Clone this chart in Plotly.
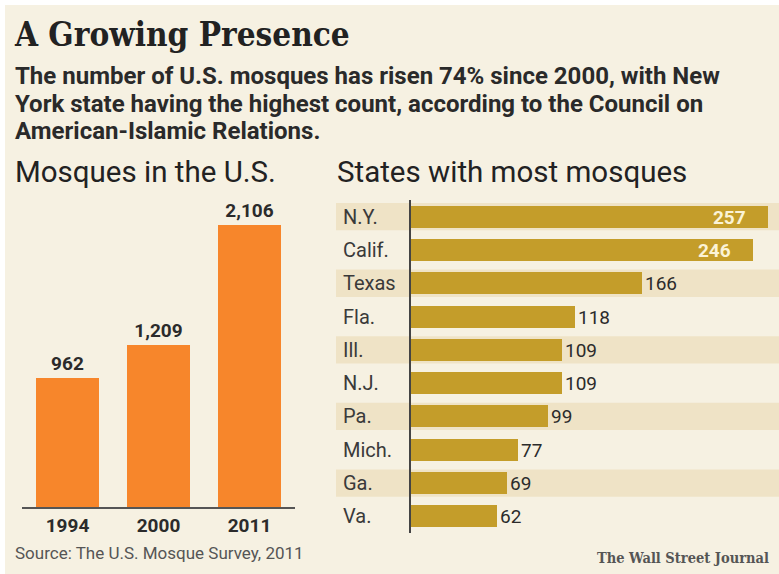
import plotly.graph_objects as go

# ---- data ----
years = ["1994", "2000", "2011"]
mosque_counts = [962, 1209, 2106]

states = ["N.Y.", "Calif.", "Texas", "Fla.", "Ill.", "N.J.", "Pa.", "Mich.", "Ga.", "Va."]
state_counts = [257, 246, 166, 118, 109, 109, 99, 77, 69, 62]

title = "A Growing Presence"
subtitle_lines = [
    "The number of U.S. mosques has risen 74% since 2000, with New",
    "York state having the highest count, according to the Council on",
    "American-Islamic Relations.",
]
left_title = "Mosques in the U.S."
right_title = "States with most mosques"
source = "Source: The U.S. Mosque Survey, 2011"
credit = "The Wall Street Journal"

# ---- style ----
PAGE_W, PAGE_H = 779, 574
OFF = 5  # page margin (white border as in the reference)
W, H = PAGE_W - OFF, PAGE_H - OFF
BG = "#f6f1e2"
ORANGE = "#f7862b"
GOLD = "#c49d2a"
STRIPE = "#efe3c6"
DARK = "#2b2b2b"
SANS = "Roboto, Arial, sans-serif"
SERIF = "DejaVu Serif Condensed, DejaVu Serif, serif"


def px_x(p):
    return (p - OFF) / W


def px_y(p):
    return 1 - (p - OFF) / H


fig = go.Figure()

# Left: vertical bars
fig.add_trace(go.Bar(
    x=years, y=mosque_counts,
    marker=dict(color=ORANGE, line=dict(width=0)),
    width=0.70,
    text=[f"<b>{v:,}</b>" for v in mosque_counts],
    textposition="outside",
    textfont=dict(family=SANS, size=19, color=DARK),
    cliponaxis=False,
    xaxis="x", yaxis="y",
    hoverinfo="skip",
))

# Right: horizontal bars
inside = [v > 200 for v in state_counts]
fig.add_trace(go.Bar(
    x=state_counts, y=states, orientation="h",
    marker=dict(color=GOLD, line=dict(width=0)),
    width=0.66,
    text=[(f"<b>{v}</b>\u2003" if f else str(v)) for v, f in zip(state_counts, inside)],
    textposition=["inside" if f else "outside" for f in inside],
    insidetextanchor="end",
    constraintext="none",
    textfont=dict(family=SANS, size=19,
                  color=["#fbf3d6" if f else DARK for f in inside]),
    cliponaxis=False,
    xaxis="x2", yaxis="y2",
    hoverinfo="skip",
))

shapes = []
for i, s in enumerate(states):
    if i % 2 == 0:
        shapes.append(dict(type="rect", xref="paper", yref="y2",
                           x0=px_x(336), x1=1.0, y0=i - 0.41, y1=i + 0.41,
                           fillcolor=STRIPE, line=dict(width=0), layer="below"))

annotations = []
annotations.append(dict(text=f"<b>{title}</b>", x=px_x(12), y=px_y(35),
                        xref="paper", yref="paper", xanchor="left", yanchor="middle",
                        showarrow=False, font=dict(family=SERIF, size=33, color="#222")))
for k, line in enumerate(subtitle_lines):
    annotations.append(dict(text=f"<b>{line}</b>", x=px_x(13), y=px_y(76 + 27.5 * k),
                            xref="paper", yref="paper", xanchor="left", yanchor="middle",
                            showarrow=False, font=dict(family=SANS, size=24, color="#2a2a2a")))
annotations.append(dict(text=left_title, x=px_x(13), y=px_y(172),
                        xref="paper", yref="paper", xanchor="left", yanchor="middle",
                        showarrow=False, font=dict(family=SANS, size=29.5, color="#222")))
annotations.append(dict(text=right_title, x=px_x(335), y=px_y(172),
                        xref="paper", yref="paper", xanchor="left", yanchor="middle",
                        showarrow=False, font=dict(family=SANS, size=29.5, color="#222")))
for i, s in enumerate(states):
    annotations.append(dict(text=s, x=px_x(341), y=s, xref="paper", yref="y2",
                            xanchor="left", yanchor="middle", showarrow=False,
                            font=dict(family=SANS, size=20, color="#3a3a3a")))
annotations.append(dict(text=source, x=px_x(13), y=px_y(553),
                        xref="paper", yref="paper", xanchor="left", yanchor="middle",
                        showarrow=False, font=dict(family=SANS, size=17, color="#555")))
annotations.append(dict(text=f"<b>{credit}</b>", x=px_x(771), y=px_y(557),
                        xref="paper", yref="paper", xanchor="right", yanchor="middle",
                        showarrow=False, font=dict(family=SERIF, size=14.5, color="#555")))

fig.update_layout(
    width=W, height=H,
    margin=dict(l=0, r=0, t=0, b=0),
    paper_bgcolor=BG, plot_bgcolor="rgba(0,0,0,0)",
    showlegend=False,
    bargap=0,
    xaxis=dict(domain=[px_x(22), px_x(295)], anchor="y",
               showline=True, linecolor="#555", linewidth=2,
               ticks="", 
               tickfont=dict(family=SANS, size=19, color=DARK),
               tickprefix="<b>", ticksuffix="</b>",
               showgrid=False, zeroline=False, fixedrange=True),
    yaxis=dict(domain=[px_y(507), px_y(200)], anchor="x", range=[0, 2290],
               visible=False, showgrid=False, zeroline=False, fixedrange=True),
    xaxis2=dict(domain=[px_x(411), 1.0], anchor="y2", range=[0, 265],
                visible=False, showgrid=False, zeroline=False, fixedrange=True),
    yaxis2=dict(domain=[px_y(533), px_y(200)], anchor="x2",
                categoryorder="array", categoryarray=states, autorange="reversed",
                showline=True, linecolor="#444", linewidth=2,
                showticklabels=False, ticks="", showgrid=False, zeroline=False,
                fixedrange=True),
    shapes=shapes,
    annotations=annotations,
)

fig.write_html(
    "out.html",
    post_script=f"document.body.style.margin='{OFF}px 0 0 {OFF}px';"
                "document.body.style.overflow='hidden';",
)
